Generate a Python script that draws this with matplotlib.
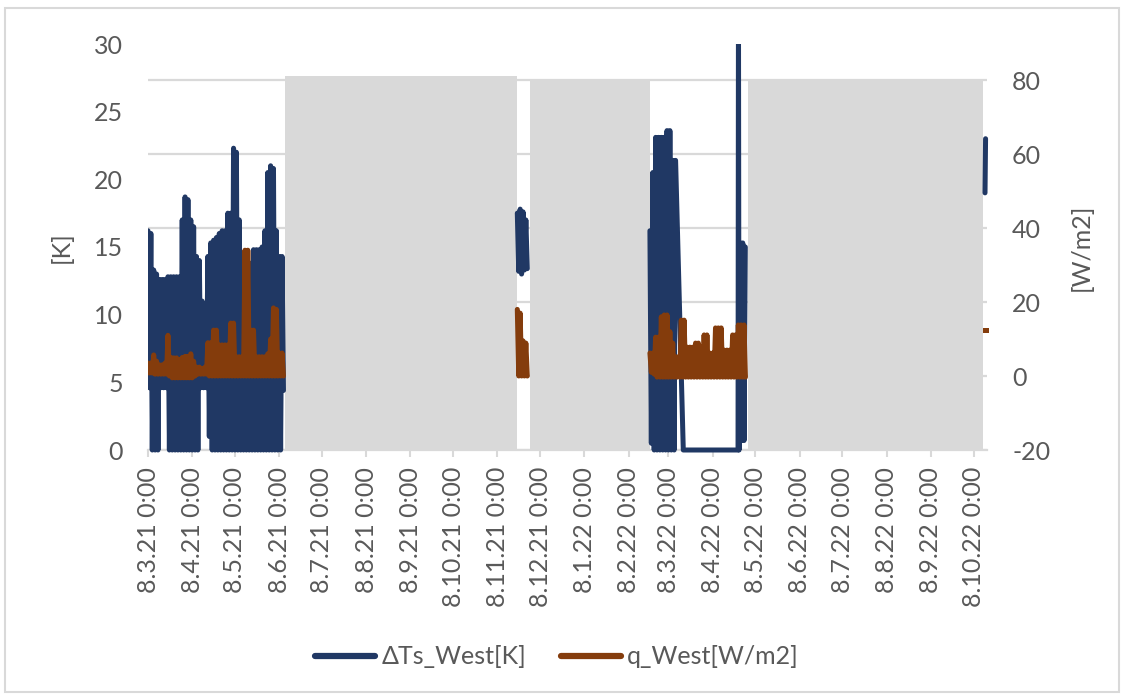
import numpy as np
import pandas as pd
import matplotlib
matplotlib.use('Agg')
import matplotlib.pyplot as plt
from matplotlib.lines import Line2D
from matplotlib.patches import Rectangle

plt.rcParams['font.family'] = ['Lato', 'DejaVu Sans']
plt.rcParams['axes.unicode_minus'] = False

# day offsets are counted from 8.3.21
start = pd.Timestamp('2021-03-08')
tick_dates = pd.date_range('2021-03-08', '2022-10-08', freq=pd.DateOffset(months=1))
tick_labels = [f'{d.day}.{d.month}.{d.year % 100} 0:00' for d in tick_dates]

# segment A (Mar - Jun 2021): daily highs / lows, every 2nd day from day 0
dts_hi_a = [16.2, 16.0, 13.3, 13.0, 12.6, 12.6, 12.6, 12.8, 12.8, 12.8,
            12.8, 12.8, 17.0, 18.7, 18.5, 17.0, 16.5, 14.3, 14.0, 11.0,
            9.0, 14.3, 15.3, 15.5, 15.7, 16.0, 16.2, 16.2, 17.5, 17.5,
            22.3, 22.0, 17.0, 13.8, 13.8, 13.8, 13.8, 14.8, 14.8, 14.8,
            15.0, 16.2, 20.5, 21.0, 20.8, 16.2, 14.3, 14.3]
dts_lo_a = [4.6, 0.0, 0.0, 0.0, 4.6, 4.6, 4.6, 0.0, 0.0, 0.0,
            0.0, 0.0, 0.0, 0.0, 0.0, 0.0, 0.0, 0.0, 4.6, 4.6,
            4.6, 1.0, 0.0, 0.0, 0.0, 0.0, 0.0, 0.0, 0.0, 0.0,
            0.0, 0.0, 0.0, 0.0, 0.0, 0.0, 0.0, 0.0, 0.0, 0.0,
            0.0, 0.0, 0.0, 0.0, 0.0, 0.0, 0.0, 4.4]
q_hi_a = [3.5, 3.5, 5.7, 4.0, 3.0, 3.0, 3.5, 11.0, 5.0, 4.9,
          4.9, 4.5, 5.0, 5.3, 5.3, 6.0, 4.0, 2.4, 2.4, 2.0,
          2.4, 9.0, 9.0, 12.4, 12.4, 8.4, 8.4, 8.4, 8.4, 14.3,
          14.3, 5.2, 5.2, 5.2, 34.0, 34.0, 12.4, 12.4, 5.2, 5.2,
          5.2, 5.2, 6.0, 10.0, 18.4, 18.0, 6.2, 6.2]
q_lo_a = [0.8, 0.8, 0.5, 0.5, 0.5, 0.5, 0.5, 0.0, -0.5, -0.5,
          -0.5, -0.5, -0.5, -0.5, -0.5, -0.5, 0.0, 0.5, 0.5, 0.5,
          0.5, 0.0, 0.0, 0.0, 0.0, 0.0, 0.0, 0.0, 0.0, 0.0,
          0.0, 0.0, 0.0, 0.0, 0.0, 0.0, 0.0, 0.0, 0.0, 0.0,
          0.0, 0.0, 0.0, 0.0, 0.0, 0.0, 0.0, 0.0]

# segment B (end of Nov 2021), from day 259
dts_hi_b = [17.5, 17.8, 17.6, 17.0]
dts_lo_b = [13.2, 13.0, 13.3, 13.4]
q_hi_b = [18.0, 17.0, 9.5, 8.9]
q_lo_b = [0.0, 0.0, 0.0, 0.0]

# segment C (Feb - Apr 2022), from day 352
dts_hi_c = [16.2, 20.5, 23.1, 23.1, 23.1, 23.1, 23.6, 23.6, 21.4, 21.4]
dts_lo_c = [0.5, 0.0, 0.0, 0.0, 0.0, 0.0, 0.0, 0.0, 0.0]
dts_tail_days = [375.4, 413.8, 414.1, 414.5, 415.3, 416.2, 417.1, 418.0, 418.9]
dts_tail_vals = [0.0, 0.0, 33.0, 0.0, 15.3, 0.7, 15.3, 0.7, 15.0]
q_hi_c = [6.2, 6.2, 10.5, 10.5, 16.0, 16.5, 16.5, 12.0, 8.9, 5.2,
          5.2, 15.1, 15.1, 7.8, 7.8, 7.8, 8.9, 8.9, 8.0, 11.1,
          11.1, 6.2, 6.2, 13.0, 13.0, 13.0, 7.0, 7.0, 7.0, 11.1,
          11.1, 13.8, 13.8, 13.8]
q_lo_c = [1.0, 0.5, -0.3, -0.3, -0.3, -0.3, -0.3, -0.3, -0.3, -0.3,
          -0.3, -0.3, -0.3, -0.3, -0.3, -0.3, -0.3, -0.3, -0.3, -0.3,
          -0.3, -0.3, -0.3, -0.3, -0.3, -0.3, -0.3, -0.3, -0.3, -0.3,
          -0.3, -0.3, -0.3, -0.3]

# segment D (Oct 2022)
dts_d_days = [587.0, 587.4]
dts_d_vals = [19.0, 23.0]
q_d_days = [586.8, 587.6]
q_d_vals = [12.4, 12.4]

# shaded gaps (secondary axis column)
gap_start = [96.4, 268.0, 420.9]
gap_end = [259.0, 352.2, 585.7]
gap_top = [81.0, 80.0, 80.0]

blue = '#203864'
brown = '#843c0c'
grey = '#d9d9d9'
txt = '#595959'
fs = 18


def zigzag(day0, hi, lo):
    days, vals = [], []
    for i, h in enumerate(hi):
        days.append(day0 + 2 * i)
        vals.append(h)
        if i < len(lo):
            days.append(day0 + 2 * i + 1)
            vals.append(lo[i])
    return days, vals


def join(*parts):
    days, vals = [], []
    for d, v in parts:
        if days:
            days.append(np.nan)
            vals.append(np.nan)
        days += list(d)
        vals += list(v)
    return np.array(days, float), np.array(vals, float)


da, va = zigzag(0, dts_hi_a, dts_lo_a)
db, vb = zigzag(259, dts_hi_b, dts_lo_b)
dc, vc = zigzag(352, dts_hi_c, dts_lo_c)
dts_x, dts_y = join((da, va), (db, vb), (dc + dts_tail_days, vc + dts_tail_vals))

qa = zigzag(0, q_hi_a, q_lo_a)
qb = zigzag(259, q_hi_b, q_lo_b)
qc = zigzag(352, q_hi_c, q_lo_c)
q_x, q_y = join(qa, qb, qc)

tick_pos = [(d - start).days for d in tick_dates]

fig = plt.figure(figsize=(11.27, 6.99), dpi=100)
fig.patches.append(Rectangle((5 / 1127, 1 - 692 / 699), 1114 / 1127, 684 / 699,
                             transform=fig.transFigure, fill=False,
                             edgecolor=grey, linewidth=1.5))

# ax: W/m2 scale (grid + shaded gaps), ax_k: K scale, ax_q: q line on top
ax = fig.add_axes([148 / 1127, 1 - 450 / 699, 839 / 1127, 406 / 699])
ax_k = ax.twinx()
ax_q = ax.twinx()

ax.set_xlim(0.3, 588.4)
ax.set_ylim(-20, 89.73)
ax.set_axisbelow(True)
ax.yaxis.grid(True, color=grey, linewidth=1.6)
ax.set_yticks(range(-20, 81, 20))
ax.yaxis.tick_right()
ax.yaxis.set_label_position('right')
ax.tick_params(axis='y', length=0, pad=18, labelsize=fs, labelcolor=txt)
ax.set_ylabel('[W/m2]', fontsize=fs, color=txt)
ax.yaxis.set_label_coords((1070 - 148) / 839, 0.5)
for s in ['top', 'left', 'right']:
    ax.spines[s].set_visible(False)
ax.spines['bottom'].set_color(grey)
ax.spines['bottom'].set_linewidth(1.6)
ax.set_xticks(tick_pos)
ax.set_xticklabels(tick_labels, rotation=90)
ax.tick_params(axis='x', length=5, width=1.5, color=grey, pad=7,
               labelsize=fs, labelcolor=txt)

ax.bar(gap_start, [t + 20 for t in gap_top], bottom=-20,
       width=[e - s for s, e in zip(gap_start, gap_end)],
       align='edge', color=grey, linewidth=0, zorder=2)

ax_k.set_ylim(0, 30)
ax_k.set_yticks(range(0, 31, 5))
ax_k.yaxis.tick_left()
ax_k.yaxis.set_label_position('left')
ax_k.tick_params(axis='y', length=0, pad=18, labelsize=fs, labelcolor=txt)
ax_k.set_ylabel('[K]', fontsize=fs, color=txt)
ax_k.yaxis.set_label_coords((73 - 148) / 839, 0.5)
for s in ax_k.spines.values():
    s.set_visible(False)
line_k, = ax_k.plot(dts_x, dts_y, color=blue, linewidth=3.6,
                    solid_joinstyle='round', solid_capstyle='round')
# let the zero values show their full line width below the axis, keep top clipped
line_k.set_clip_path(Rectangle((0, -0.008), 1, 1.008, transform=ax_k.transAxes))
ax_k.plot(dts_d_days, dts_d_vals, color=blue, linewidth=3.6,
          solid_capstyle='round', clip_on=False)

ax_q.set_ylim(-20, 89.73)
ax_q.axis('off')
ax_q.plot(q_x, q_y, color=brown, linewidth=3.6, solid_joinstyle='round',
          solid_capstyle='round')
ax_q.plot(q_d_days, q_d_vals, color=brown, linewidth=3.6, clip_on=False)

handles = [Line2D([], [], color=blue, linewidth=4.5, solid_capstyle='round'),
           Line2D([], [], color=brown, linewidth=4.5, solid_capstyle='round')]
leg = fig.legend(handles, ['ΔTs_West[K]', 'q_West[W/m2]'], loc='center',
                 bbox_to_anchor=(557 / 1127, 1 - 657 / 699), ncol=2,
                 frameon=False, fontsize=fs, handlelength=2.4,
                 handletextpad=0.25, columnspacing=1.4)
for t in leg.get_texts():
    t.set_color(txt)

fig.savefig('out.png', dpi=100)
